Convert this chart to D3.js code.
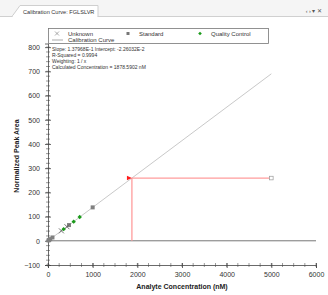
<!DOCTYPE html>
<html>
<head>
<meta charset="utf-8">
<script src="https://cdn.jsdelivr.net/npm/d3@7"></script>
<style>
  body { margin: 0; background: #fff; }
  svg { display: block; font-family: "Liberation Sans", Arial, sans-serif; }
</style>
</head>
<body>
<div id="chart"></div>
<script>
// data
var slope = 0.137968;
var intercept = -0.0226032;
var standards = [[10, 1.4], [25, 3.5], [50, 6.9], [100, 13.8], [470, 65], [1000, 138]];
var qcPoints = [[350, 48], [575, 79], [710, 98]];
var unknownPoints = [[300, 41], [425, 58]];
var calcConc = 1878.5902;
var curveEnd = 5000;
var xTicks = [0, 1000, 2000, 3000, 4000, 5000, 6000];
var yTicks = [-100, 0, 100, 200, 300, 400, 500, 600, 700, 800];
var infoLines = [
  "Slope: 1.37968E-1  Intercept: -2.26032E-2",
  "R-Squared = 0.9994",
  "Weighting: 1 / x",
  "Calculated Concentration = 1878.5902 nM"
];

var width = 328, height = 295;
var svg = d3.select("#chart").append("svg")
    .attr("width", width)
    .attr("height", height);

// tab header strip
svg.append("rect").attr("x", 0).attr("y", 0).attr("width", width).attr("height", 17).attr("fill", "#f5f5f5");
svg.append("line").attr("x1", 0).attr("x2", width).attr("y1", 16.5).attr("y2", 16.5).attr("stroke", "#d0d0d0");
svg.append("path")
    .attr("d", "M 12 16.5 L 20 5.5 L 98 5.5 L 98 16.5")
    .attr("fill", "#fff").attr("stroke", "#cfcfcf");
svg.append("rect").attr("x", 13).attr("y", 15.5).attr("width", 84).attr("height", 2).attr("fill", "#fff");
svg.append("text").attr("x", 23).attr("y", 13.5)
    .attr("font-size", 5.6).attr("fill", "#333")
    .text("Calibration Curve: FGLSLVR");
svg.append("text").attr("x", 322).attr("y", 13).attr("text-anchor", "end")
    .attr("font-size", 5.5).attr("fill", "#555")
    .text("\u2039 \u203A \u25BE \u2715");

var x = d3.scaleLinear().domain([0, 6000]).range([48, 316]);
var y = d3.scaleLinear().domain([-100, 815]).range([265, 43.5]);

// minor ticks
var yMinor = d3.range(-100, 801, 20);
svg.append("g").selectAll("line").data(yMinor).enter().append("line")
    .attr("x1", 46).attr("x2", 50)
    .attr("y1", function(d) { return y(d); }).attr("y2", function(d) { return y(d); })
    .attr("stroke", "#555").attr("stroke-width", 0.6);
var xMinor = d3.range(0, 6001, 250);
svg.append("g").selectAll("line").data(xMinor).enter().append("line")
    .attr("x1", function(d) { return x(d); }).attr("x2", function(d) { return x(d); })
    .attr("y1", 263).attr("y2", 267)
    .attr("stroke", "#555").attr("stroke-width", 0.6);

var yAxis = svg.append("g").attr("transform", "translate(48,0)")
    .call(d3.axisLeft(y).tickValues(yTicks).tickFormat(d3.format("d")).tickSize(3).tickPadding(5));
var xAxis = svg.append("g").attr("transform", "translate(0,265)")
    .call(d3.axisBottom(x).tickValues(xTicks).tickFormat(d3.format("d")).tickSize(3).tickPadding(4));
[yAxis, xAxis].forEach(function(a) {
  a.select(".domain").attr("stroke", "#444").attr("stroke-width", 0.8);
  a.selectAll(".tick line").attr("stroke", "#444").attr("stroke-width", 0.8);
  a.selectAll("text").attr("font-size", 7).attr("fill", "#333").attr("font-family", "Liberation Sans, Arial, sans-serif");
});
yAxis.selectAll(".tick line").attr("x2", 3).attr("x1", -3);
xAxis.selectAll(".tick line").attr("y1", -2).attr("y2", 3);

// zero line
svg.append("line")
    .attr("x1", x(0)).attr("x2", x(6000))
    .attr("y1", y(0)).attr("y2", y(0))
    .attr("stroke", "#777").attr("stroke-width", 1);

// calibration curve
svg.append("line")
    .attr("x1", x(0)).attr("y1", y(intercept))
    .attr("x2", x(curveEnd)).attr("y2", y(slope * curveEnd + intercept))
    .attr("stroke", "#c9c9c9").attr("stroke-width", 1);

// unknown result lines
var calcArea = slope * calcConc + intercept;
svg.append("line")
    .attr("x1", x(calcConc)).attr("x2", x(calcConc))
    .attr("y1", y(calcArea)).attr("y2", y(0))
    .attr("stroke", "#ff9c9c").attr("stroke-width", 1.3);
svg.append("line")
    .attr("x1", x(calcConc)).attr("x2", x(curveEnd))
    .attr("y1", y(calcArea)).attr("y2", y(calcArea))
    .attr("stroke", "#ff9c9c").attr("stroke-width", 1.3);
svg.append("rect")
    .attr("x", x(curveEnd) - 1.8).attr("y", y(calcArea) - 1.8)
    .attr("width", 3.6).attr("height", 3.6)
    .attr("fill", "#fff").attr("stroke", "#999").attr("stroke-width", 0.7);
svg.append("path")
    .attr("transform", "translate(" + x(calcConc) + "," + y(calcArea) + ")")
    .attr("d", "M -5 -2.2 L 0 0 L -5 2.2 Z")
    .attr("fill", "#ff1a1a");

// standards
svg.append("g").selectAll("rect").data(standards).enter().append("rect")
    .attr("x", function(d) { return x(d[0]) - 2; })
    .attr("y", function(d) { return y(d[1]) - 2; })
    .attr("width", 4).attr("height", 4)
    .attr("fill", "#808080");

// unknown samples
svg.append("g").selectAll("path").data(unknownPoints).enter().append("path")
    .attr("transform", function(d) { return "translate(" + x(d[0]) + "," + y(d[1]) + ")"; })
    .attr("d", "M -2.5 -2.5 L 2.5 2.5 M -2.5 2.5 L 2.5 -2.5")
    .attr("stroke", "#555").attr("stroke-width", 0.8);

// quality control
svg.append("g").selectAll("path").data(qcPoints).enter().append("path")
    .attr("transform", function(d) { return "translate(" + x(d[0]) + "," + y(d[1]) + ")"; })
    .attr("d", "M 0 -2.2 L 2.2 0 L 0 2.2 L -2.2 0 Z")
    .attr("fill", "#1a9a1a");

// info text
svg.append("g").selectAll("text").data(infoLines).enter().append("text")
    .attr("x", 52)
    .attr("y", function(d, i) { return 51 + i * 6; })
    .attr("font-size", 5).attr("fill", "#333")
    .text(function(d) { return d; });

// legend
var lg = svg.append("g");
lg.append("rect").attr("x", 48.5).attr("y", 28.5).attr("width", 220).attr("height", 15)
    .attr("fill", "#fff").attr("stroke", "#777").attr("stroke-width", 0.8);
lg.append("path").attr("transform", "translate(57,33.5)")
    .attr("d", "M -2 -2 L 2 2 M -2 2 L 2 -2").attr("stroke", "#888").attr("stroke-width", 0.7);
lg.append("text").attr("x", 68).attr("y", 35.5).attr("font-size", 6).attr("fill", "#333").text("Unknown");
lg.append("rect").attr("x", 126.5).attr("y", 32).attr("width", 3).attr("height", 3).attr("fill", "#777");
lg.append("text").attr("x", 139).attr("y", 35.5).attr("font-size", 6).attr("fill", "#333").text("Standard");
lg.append("path").attr("transform", "translate(200,33.5)")
    .attr("d", "M 0 -1.8 L 1.8 0 L 0 1.8 L -1.8 0 Z").attr("fill", "#1a9a1a");
lg.append("text").attr("x", 211).attr("y", 35.5).attr("font-size", 6).attr("fill", "#333").text("Quality Control");
lg.append("line").attr("x1", 52).attr("x2", 63).attr("y1", 40).attr("y2", 40)
    .attr("stroke", "#888").attr("stroke-width", 0.7);
lg.append("text").attr("x", 68).attr("y", 42).attr("font-size", 6).attr("fill", "#333").text("Calibration Curve");

// axis titles
svg.append("text").attr("x", 182).attr("y", 289).attr("text-anchor", "middle")
    .attr("font-size", 7).attr("font-weight", "bold").attr("fill", "#222")
    .text("Analyte Concentration (nM)");
svg.append("text").attr("transform", "translate(19,156) rotate(-90)").attr("text-anchor", "middle")
    .attr("font-size", 7).attr("font-weight", "bold").attr("fill", "#222")
    .text("Normalized Peak Area");
</script>
</body>
</html>
